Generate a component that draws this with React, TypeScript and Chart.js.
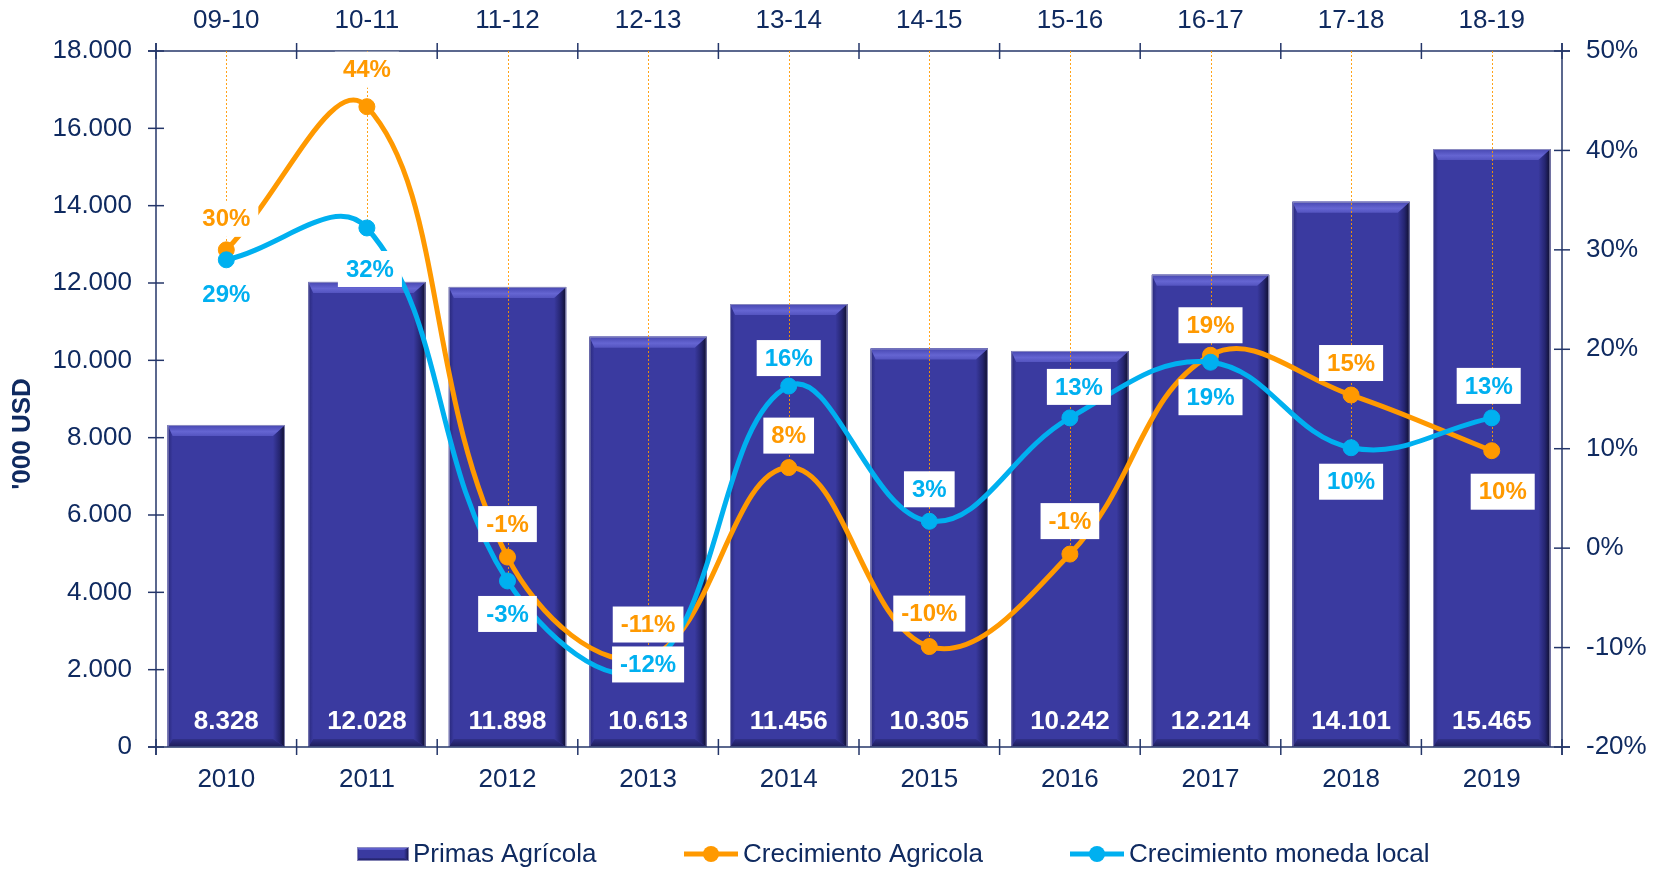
import React, { useEffect, useRef } from 'react';
import { Chart, registerables } from 'chart.js';

Chart.register(...registerables);

// ---------- data ----------
const years = ['2010', '2011', '2012', '2013', '2014', '2015', '2016', '2017', '2018', '2019'];
const periods = ['09-10', '10-11', '11-12', '12-13', '13-14', '14-15', '15-16', '16-17', '17-18', '18-19'];
const primasAgricola = [8328, 12028, 11898, 10613, 11456, 10305, 10242, 12214, 14101, 15465];
const crecimientoAgricola = [30.0, 44.4, -0.9, -11.0, 8.1, -9.9, -0.6, 19.4, 15.4, 9.8];
const crecimientoMonedaLocal = [29.0, 32.2, -3.3, -12.0, 16.3, 2.7, 13.1, 18.7, 10.1, 13.1];
const leftAxis = { min: 0, max: 18000, step: 2000 };
const rightAxis = { min: -20, max: 50, step: 10 };

// label placement (style, offsets in px from the point)
const agricolaLabelDy = [-31, -37, -33, -33, -32, -33, -33, -30, -32, 41];
const agricolaLabelDx = [0, 0, 0, 0, 0, 0, 0, 0, 0, 11];
const localLabelDy = [35, 41, 33, -3, -28, -32, -31, 35, 34, -32];
const localLabelDx = [0, 3, 0, 0, 0, 0, 9, 0, 0, -3];

// ---------- style ----------
const NAVY = '#0F2A60';
const AXIS = '#243669';
const ORANGE = '#FF9900';
const BLUE = '#00B0F0';
const BAR = '#3A3AA0';
const FONT = "'Liberation Sans', Arial, Helvetica, sans-serif";

const fmtThousands = (v: number) => String(Math.round(v)).replace(/\B(?=(\d{3})+(?!\d))/g, '.');
const fmtPct = (v: number) => `${Math.round(v)}%`;

function poly(ctx: CanvasRenderingContext2D, pts: number[][], fill: any) {
  ctx.beginPath();
  ctx.moveTo(pts[0][0], pts[0][1]);
  for (let i = 1; i < pts.length; i++) ctx.lineTo(pts[i][0], pts[i][1]);
  ctx.closePath();
  ctx.fillStyle = fill;
  ctx.fill();
}

function drawBevelBar(ctx: CanvasRenderingContext2D, x0: number, x1: number, y0: number, y1: number, bt = 11, br = 12, bl = 5, bb = 8) {
  ctx.fillStyle = BAR;
  ctx.fillRect(x0, y0, x1 - x0, y1 - y0);
  let g = ctx.createLinearGradient(x0, 0, x0 + bl, 0);
  g.addColorStop(0, '#28287a');
  g.addColorStop(1, BAR);
  poly(ctx, [[x0, y0], [x0 + bl, y0 + bt], [x0 + bl, y1 - bb], [x0, y1]], g);
  g = ctx.createLinearGradient(x1 - br, 0, x1, 0);
  g.addColorStop(0, BAR);
  g.addColorStop(0.55, '#252570');
  g.addColorStop(1, '#0e0e2c');
  poly(ctx, [[x1, y0], [x1, y1], [x1 - br, y1 - bb], [x1 - br, y0 + bt]], g);
  g = ctx.createLinearGradient(0, y1 - bb, 0, y1);
  g.addColorStop(0, '#303088');
  g.addColorStop(1, '#1c1c58');
  poly(ctx, [[x0, y1], [x1, y1], [x1 - br, y1 - bb], [x0 + bl, y1 - bb]], g);
  g = ctx.createLinearGradient(0, y0, 0, y0 + bt);
  g.addColorStop(0, '#4646b0');
  g.addColorStop(0.6, '#6565d2');
  g.addColorStop(1, '#5454c0');
  poly(ctx, [[x0, y0], [x1, y0], [x1 - br, y0 + bt], [x0 + bl, y0 + bt]], g);
  ctx.strokeStyle = 'rgba(150,150,195,0.85)';
  ctx.lineWidth = 1;
  ctx.strokeRect(x0 + 0.5, y0 + 0.5, x1 - x0 - 1, y1 - y0 - 1);
}

const decorPlugin = {
  id: 'decor',
  afterDatasetDraw(chart: any, args: any) {
    if (args.index !== 0) return;
    const ctx: CanvasRenderingContext2D = chart.ctx;
    const xS = chart.scales.x;
    const yS = chart.scales.y;
    const y1S = chart.scales.y1;
    const area = chart.chartArea;
    ctx.save();
    const meta = chart.getDatasetMeta(0);
    meta.data.forEach((bar: any, i: number) => {
      const p = bar.getProps(['x', 'y', 'base', 'width'], true);
      const x0 = p.x - p.width / 2;
      const x1 = p.x + p.width / 2;
      drawBevelBar(ctx, x0, x1, p.y, p.base);
      ctx.fillStyle = '#FFFFFF';
      ctx.font = `bold 26px ${FONT}`;
      ctx.textAlign = 'center';
      ctx.textBaseline = 'middle';
      ctx.fillText(fmtThousands(primasAgricola[i]), p.x, p.base - 25);
    });

    ctx.strokeStyle = AXIS;
    ctx.lineWidth = 1.5;
    ctx.setLineDash([]);
    const L = area.left, R = area.right, T = area.top, B = area.bottom;
    const seg = (ax: number, ay: number, bx: number, by: number) => {
      ctx.beginPath();
      ctx.moveTo(ax, ay);
      ctx.lineTo(bx, by);
      ctx.stroke();
    };
    seg(L, T - 8, L, B + 8);
    seg(R, T - 8, R, B + 8);
    seg(L - 8, T, R + 8, T);
    seg(L - 8, B, R + 8, B);
    for (let v = leftAxis.min; v <= leftAxis.max; v += leftAxis.step) {
      const py = yS.getPixelForValue(v);
      seg(L - 8, py, L + 8, py);
    }
    for (let v = rightAxis.min; v <= rightAxis.max; v += rightAxis.step) {
      const py = y1S.getPixelForValue(v);
      seg(R - 8, py, R + 8, py);
    }
    for (let k = 0; k <= years.length; k++) {
      const px = xS.getPixelForValue(k - 0.5);
      seg(px, T - 8, px, T + 8);
      seg(px, B - 8, px, B + 8);
    }

    ctx.strokeStyle = 'rgba(255,153,0,0.9)';
    ctx.lineWidth = 1;
    ctx.setLineDash([2, 2]);
    years.forEach((_, i) => {
      const px = Math.round(xS.getPixelForValue(i)) + 0.5;
      const low = Math.min(crecimientoAgricola[i], crecimientoMonedaLocal[i]);
      seg(px, T, px, y1S.getPixelForValue(low));
    });
    ctx.restore();
  },
  afterDatasetsDraw(chart: any) {
    const ctx: CanvasRenderingContext2D = chart.ctx;
    const xS = chart.scales.x;
    const y1S = chart.scales.y1;
    ctx.save();
    ctx.font = `bold 24px ${FONT}`;
    ctx.textAlign = 'center';
    ctx.textBaseline = 'middle';
    const box = (cx: number, cy: number, text: string, color: string) => {
      const w = ctx.measureText(text).width + 16;
      const h = 36;
      ctx.fillStyle = '#FFFFFF';
      ctx.fillRect(cx - w / 2, cy - h / 2, w, h);
      ctx.fillStyle = color;
      ctx.fillText(text, cx, cy + 1);
    };
    years.forEach((_, i) => {
      const px = xS.getPixelForValue(i);
      box(px + agricolaLabelDx[i], y1S.getPixelForValue(crecimientoAgricola[i]) + agricolaLabelDy[i], fmtPct(crecimientoAgricola[i]), ORANGE);
      box(px + localLabelDx[i], y1S.getPixelForValue(crecimientoMonedaLocal[i]) + localLabelDy[i], fmtPct(crecimientoMonedaLocal[i]), BLUE);
    });
    ctx.restore();
  },
  afterDraw(chart: any) {
    const ctx: CanvasRenderingContext2D = chart.ctx;
    const area = chart.chartArea;
    ctx.save();
    ctx.translate(23, (area.top + area.bottom) / 2 + 35);
    ctx.rotate(-Math.PI / 2);
    ctx.fillStyle = NAVY;
    ctx.font = `bold 26px ${FONT}`;
    ctx.textAlign = 'center';
    ctx.textBaseline = 'middle';
    ctx.fillText("'000 USD", 0, 0);
    ctx.restore();

    ctx.save();
    const ly = 854;
    ctx.font = `26px ${FONT}`;
    ctx.textAlign = 'left';
    ctx.textBaseline = 'middle';
    drawBevelBar(ctx, 357, 409, ly - 7, ly + 7, 3, 5, 2, 3);
    ctx.fillStyle = NAVY;
    ctx.fillText('Primas Agrícola', 413, ly + 1);
    const lineSwatch = (x0: number, x1: number, color: string) => {
      ctx.strokeStyle = color;
      ctx.lineWidth = 5;
      ctx.setLineDash([]);
      ctx.beginPath();
      ctx.moveTo(x0, ly);
      ctx.lineTo(x1, ly);
      ctx.stroke();
      ctx.fillStyle = color;
      ctx.beginPath();
      ctx.arc((x0 + x1) / 2, ly, 8, 0, Math.PI * 2);
      ctx.fill();
    };
    lineSwatch(684, 738, ORANGE);
    ctx.fillStyle = NAVY;
    ctx.fillText('Crecimiento Agricola', 743, ly + 1);
    lineSwatch(1070, 1124, BLUE);
    ctx.fillStyle = NAVY;
    ctx.fillText('Crecimiento moneda local', 1129, ly + 1);
    ctx.restore();
  },
};

export default function App() {
  const canvasRef = useRef<HTMLCanvasElement | null>(null);

  useEffect(() => {
    document.body.style.margin = '0';
    document.body.style.overflow = 'hidden';
    const canvas = canvasRef.current;
    if (!canvas) return;
    const tickFont = { family: FONT, size: 26 };
    const chart = new Chart(canvas, {
      type: 'bar',
      data: {
        labels: years,
        datasets: [
          {
            type: 'bar',
            label: 'Primas Agrícola',
            data: primasAgricola,
            backgroundColor: BAR,
            borderWidth: 0,
            barPercentage: 0.834,
            categoryPercentage: 1,
            xAxisID: 'x',
            yAxisID: 'y',
            order: 3,
          } as any,
          {
            type: 'line',
            label: 'Crecimiento Agricola',
            data: crecimientoAgricola,
            borderColor: ORANGE,
            backgroundColor: ORANGE,
            borderWidth: 5,
            pointRadius: 8,
            pointBorderWidth: 1,
            pointBackgroundColor: ORANGE,
            pointBorderColor: ORANGE,
            tension: 0.4,
            fill: false,
            xAxisID: 'x',
            yAxisID: 'y1',
            order: 2,
            clip: false,
          } as any,
          {
            type: 'line',
            label: 'Crecimiento moneda local',
            data: crecimientoMonedaLocal,
            borderColor: BLUE,
            backgroundColor: BLUE,
            borderWidth: 5,
            pointRadius: 8,
            pointBorderWidth: 1,
            pointBackgroundColor: BLUE,
            pointBorderColor: BLUE,
            tension: 0.4,
            fill: false,
            xAxisID: 'x',
            yAxisID: 'y1',
            order: 1,
            clip: false,
          } as any,
        ],
      },
      options: {
        responsive: false,
        animation: false,
        layout: { padding: 0 },
        plugins: {
          legend: { display: false },
          tooltip: { enabled: false },
        },
        scales: {
          x: {
            type: 'category',
            position: 'bottom',
            offset: true,
            grid: { display: false },
            border: { display: false },
            ticks: { color: NAVY, font: tickFont, padding: 9.5, maxRotation: 0, autoSkip: false },
            afterFit: (s: any) => { s.height = 123; },
          },
          x2: {
            type: 'category',
            position: 'top',
            labels: periods,
            offset: true,
            grid: { display: false },
            border: { display: false },
            ticks: { color: NAVY, font: tickFont, padding: 6.5, maxRotation: 0, autoSkip: false },
            afterFit: (s: any) => { s.height = 51; },
          },
          y: {
            type: 'linear',
            position: 'left',
            min: leftAxis.min,
            max: leftAxis.max,
            grid: { display: false },
            border: { display: false },
            ticks: { stepSize: leftAxis.step, color: NAVY, font: tickFont, padding: 16, callback: (v: any) => fmtThousands(Number(v)) },
            afterFit: (s: any) => { s.width = 156; },
          },
          y1: {
            type: 'linear',
            position: 'right',
            min: rightAxis.min,
            max: rightAxis.max,
            grid: { display: false },
            border: { display: false },
            ticks: { stepSize: rightAxis.step, color: NAVY, font: tickFont, padding: 16, callback: (v: any) => `${v}%` },
            afterFit: (s: any) => { s.width = 101; },
          },
        },
      } as any,
      plugins: [decorPlugin],
    });
    return () => chart.destroy();
  }, []);

  return (
    <div style={{ width: 1663, height: 870, background: '#FFFFFF' }}>
      <canvas ref={canvasRef} width={1663} height={870} style={{ display: 'block' }} />
    </div>
  );
}
